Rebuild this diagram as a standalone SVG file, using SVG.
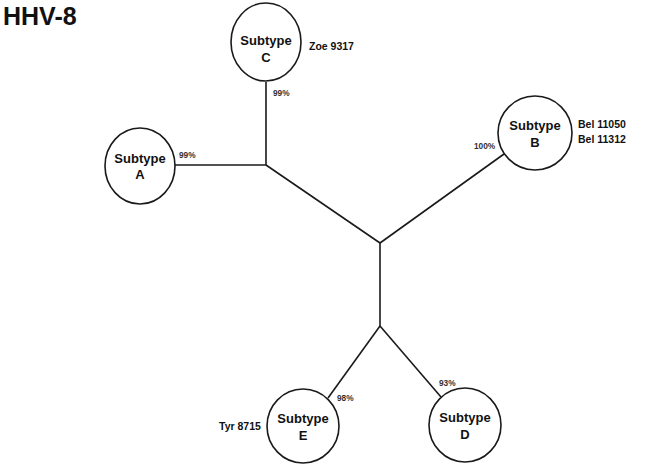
<svg xmlns="http://www.w3.org/2000/svg" width="646" height="469" viewBox="0 0 646 469">
<style>
.c{fill:#fff;stroke:#1a1a1a;stroke-width:1.6}
.e{fill:none;stroke:#1a1a1a;stroke-width:1.6}
.st{font-family:"Liberation Sans",Arial,sans-serif;font-weight:bold;font-size:13px;fill:#111;text-anchor:middle}
.lb{font-family:"Liberation Sans",Arial,sans-serif;font-weight:bold;font-size:10.5px;fill:#111}
.pc{font-family:"Liberation Sans",Arial,sans-serif;font-weight:bold;font-size:8.3px;fill:#333}
</style>
<rect width="646" height="469" fill="#fff"/>
<text x="3" y="25" style="font-family:'Liberation Sans',Arial,sans-serif;font-weight:bold;font-size:25px;fill:#111">HHV-8</text>
<g id="connectors">
<polyline class="e" points="266,82 266,165 175,165"/>
<line class="e" x1="266" y1="165" x2="380" y2="243"/>
<line class="e" x1="380" y1="243" x2="504" y2="154"/>
<line class="e" x1="380" y1="243" x2="380" y2="326"/>
<line class="e" x1="380" y1="326" x2="328" y2="398"/>
<line class="e" x1="380" y1="326" x2="441" y2="397"/>
</g>
<g id="subtypeC">
<ellipse class="c" cx="266" cy="42" rx="35" ry="39"/>
<text class="st" x="266" y="45">Subtype</text>
<text class="st" x="266" y="62">C</text>
<text class="lb" x="309" y="50">Zoe 9317</text>
<text class="pc" x="273" y="96">99%</text>
</g>
<g id="subtypeA">
<ellipse class="c" cx="140" cy="166" rx="35" ry="38"/>
<text class="st" x="140" y="163">Subtype</text>
<text class="st" x="140" y="179">A</text>
<text class="pc" x="179" y="158">99%</text>
</g>
<g id="subtypeB">
<ellipse class="c" cx="535" cy="133" rx="37" ry="37"/>
<text class="st" x="535" y="130">Subtype</text>
<text class="st" x="535" y="147">B</text>
<text class="lb" x="578" y="128">Bel 11050</text>
<text class="lb" x="578" y="143">Bel 11312</text>
<text class="pc" x="474" y="149">100%</text>
</g>
<g id="subtypeE">
<ellipse class="c" cx="303" cy="426" rx="36" ry="37"/>
<text class="st" x="303" y="423">Subtype</text>
<text class="st" x="303" y="440">E</text>
<text class="lb" x="219" y="430">Tyr 8715</text>
<text class="pc" x="337" y="401">98%</text>
</g>
<g id="subtypeD">
<ellipse class="c" cx="465" cy="425" rx="36" ry="37"/>
<text class="st" x="465" y="422">Subtype</text>
<text class="st" x="465" y="439">D</text>
<text class="pc" x="439" y="386">93%</text>
</g>
</svg>
